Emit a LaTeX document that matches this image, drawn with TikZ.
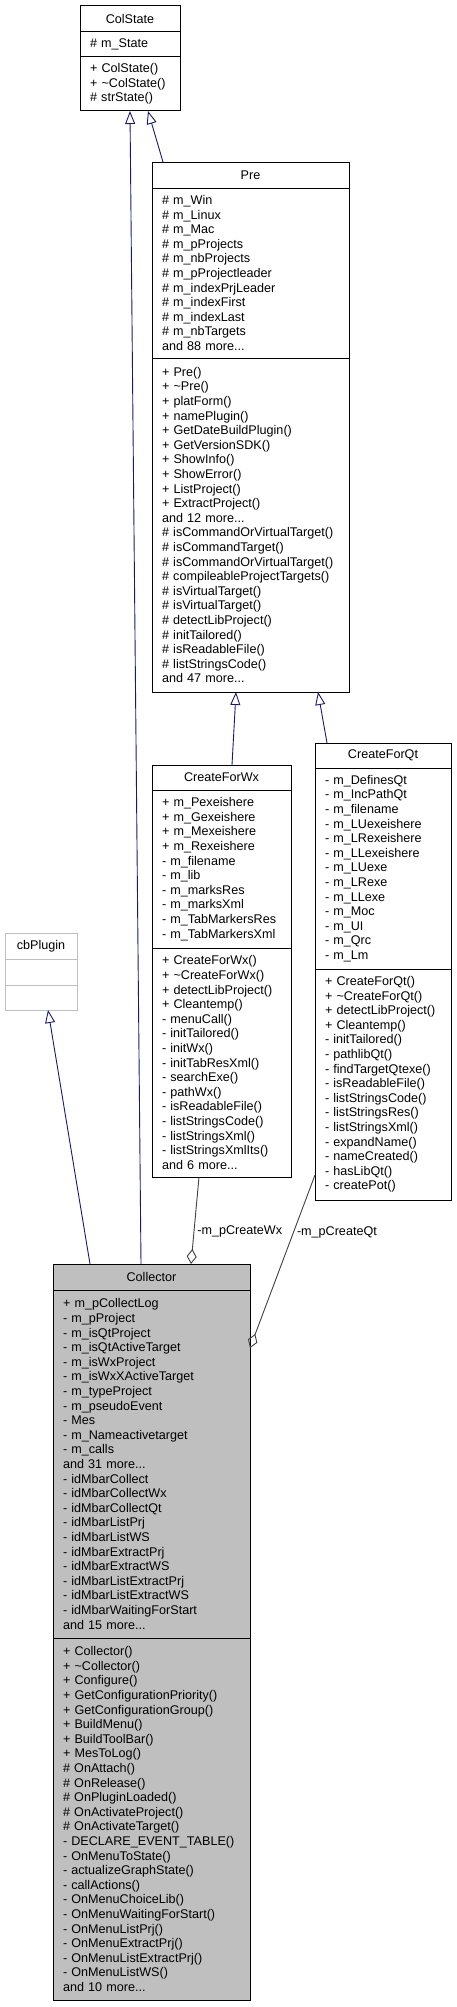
\documentclass[tikz,border=0pt]{standalone}
\usepackage{fontspec}
\setmainfont{Liberation Sans}
\usepackage{tikz}
\usetikzlibrary{calc,arrows.meta}
\usepackage{xcolor}
\definecolor{inheritblue}{HTML}{191970}
\definecolor{usegray}{HTML}{404040}
\definecolor{plugingray}{HTML}{BFBFBF}

\begin{document}
\begin{tikzpicture}[x=1pt, y=-1pt,
  every node/.style={font=\fontsize{12.6}{14.6}\selectfont},
  classtitle/.style={draw, line width=1pt, anchor=north west, outer sep=0pt, inner sep=0pt},
  classpart/.style={draw, line width=1pt, anchor=north west, outer sep=0pt,
    inner xsep=10pt, inner ysep=0pt, align=left},
  inherit/.style={draw=inheritblue, line width=0.9pt, -{Triangle[open, length=13pt, width=10pt]}},
  usage/.style={draw=usegray, line width=0.9pt, {Diamond[open, length=15pt, width=10pt]}-},
  edgelabel/.style={inner sep=3pt}]
  \useasboundingbox (0,0) rectangle (456,2007);

  % ColState
  \node[classtitle, minimum width=100pt, minimum height=26pt] (colstate) at (80,6) {ColState};
  \node[classpart, text width=80pt, minimum height=25pt] (colstateattr) at (colstate.south west) {\# m\_State};
  \node[classpart, text width=80pt, minimum height=54pt] (colstatemeth) at (colstateattr.south west)
    {+ ColState()\\+ \textasciitilde{}ColState()\\\# strState()};

  % Pre
  \node[classtitle, minimum width=197pt, minimum height=26pt] (pre) at (152,162) {Pre};
  \node[classpart, text width=177pt, minimum height=170pt] (preattr) at (pre.south west)
    {\# m\_Win\\\# m\_Linux\\\# m\_Mac\\\# m\_pProjects\\\# m\_nbProjects\\\# m\_pProjectleader\\
     \# m\_indexPrjLeader\\\# m\_indexFirst\\\# m\_indexLast\\\# m\_nbTargets\\and 88 more...};
  \node[classpart, text width=177pt, minimum height=334pt] (premeth) at (preattr.south west)
    {+ Pre()\\+ \textasciitilde{}Pre()\\+ platForm()\\+ namePlugin()\\+ GetDateBuildPlugin()\\
     + GetVersionSDK()\\+ ShowInfo()\\+ ShowError()\\+ ListProject()\\+ ExtractProject()\\
     and 12 more...\\\# isCommandOrVirtualTarget()\\\# isCommandTarget()\\
     \# isCommandOrVirtualTarget()\\\# compileableProjectTargets()\\\# isVirtualTarget()\\
     \# isVirtualTarget()\\\# detectLibProject()\\\# initTailored()\\\# isReadableFile()\\
     \# listStringsCode()\\and 47 more...};

  % CreateForWx
  \node[classtitle, minimum width=139pt, minimum height=25pt] (createforwx) at (152,765) {CreateForWx};
  \node[classpart, text width=119pt, minimum height=158pt] (createforwxattr) at (createforwx.south west)
    {+ m\_Pexeishere\\+ m\_Gexeishere\\+ m\_Mexeishere\\+ m\_Rexeishere\\- m\_filename\\
     - m\_lib\\- m\_marksRes\\- m\_marksXml\\- m\_TabMarkersRes\\- m\_TabMarkersXml};
  \node[classpart, text width=119pt, minimum height=229pt] (createforwxmeth) at (createforwxattr.south west)
    {+ CreateForWx()\\+ \textasciitilde{}CreateForWx()\\+ detectLibProject()\\+ Cleantemp()\\
     - menuCall()\\- initTailored()\\- initWx()\\- initTabResXml()\\- searchExe()\\- pathWx()\\
     - isReadableFile()\\- listStringsCode()\\- listStringsXml()\\- listStringsXmlIts()\\
     and 6 more...};

  % CreateForQt
  \node[classtitle, minimum width=136pt, minimum height=25pt] (createforqt) at (315,743) {CreateForQt};
  \node[classpart, text width=116pt, minimum height=201pt] (createforqtattr) at (createforqt.south west)
    {- m\_DefinesQt\\- m\_IncPathQt\\- m\_filename\\- m\_LUexeishere\\- m\_LRexeishere\\
     - m\_LLexeishere\\- m\_LUexe\\- m\_LRexe\\- m\_LLexe\\- m\_Moc\\- m\_UI\\- m\_Qrc\\- m\_Lm};
  \node[classpart, text width=116pt, minimum height=231pt] (createforqtmeth) at (createforqtattr.south west)
    {+ CreateForQt()\\+ \textasciitilde{}CreateForQt()\\+ detectLibProject()\\+ Cleantemp()\\
     - initTailored()\\- pathlibQt()\\- findTargetQtexe()\\- isReadableFile()\\
     - listStringsCode()\\- listStringsRes()\\- listStringsXml()\\- expandName()\\
     - nameCreated()\\- hasLibQt()\\- createPot()};

  % cbPlugin
  \node[classtitle, draw=plugingray, minimum width=72pt, minimum height=26pt] (cbplugin) at (5,933) {cbPlugin};
  \node[classpart, draw=plugingray, text width=52pt, minimum height=26pt] (cbpluginattr) at (cbplugin.south west) {};
  \node[classpart, draw=plugingray, text width=52pt, minimum height=25pt] (cbpluginmeth) at (cbpluginattr.south west) {};

  % Collector
  \node[classtitle, fill=plugingray, minimum width=197pt, minimum height=26pt] (collector) at (53,1264) {Collector};
  \node[classpart, fill=plugingray, text width=177pt, minimum height=348pt] (collectorattr) at (collector.south west)
    {+ m\_pCollectLog\\- m\_pProject\\- m\_isQtProject\\- m\_isQtActiveTarget\\- m\_isWxProject\\
     - m\_isWxXActiveTarget\\- m\_typeProject\\- m\_pseudoEvent\\- Mes\\- m\_Nameactivetarget\\
     - m\_calls\\and 31 more...\\- idMbarCollect\\- idMbarCollectWx\\- idMbarCollectQt\\
     - idMbarListPrj\\- idMbarListWS\\- idMbarExtractPrj\\- idMbarExtractWS\\
     - idMbarListExtractPrj\\- idMbarListExtractWS\\- idMbarWaitingForStart\\and 15 more...};
  \node[classpart, fill=plugingray, text width=177pt, minimum height=362pt] (collectormeth) at (collectorattr.south west)
    {+ Collector()\\+ \textasciitilde{}Collector()\\+ Configure()\\+ GetConfigurationPriority()\\
     + GetConfigurationGroup()\\+ BuildMenu()\\+ BuildToolBar()\\+ MesToLog()\\\# OnAttach()\\
     \# OnRelease()\\\# OnPluginLoaded()\\\# OnActivateProject()\\\# OnActivateTarget()\\
     - DECLARE\_EVENT\_TABLE()\\- OnMenuToState()\\- actualizeGraphState()\\- callActions()\\
     - OnMenuChoiceLib()\\- OnMenuWaitingForStart()\\- OnMenuListPrj()\\- OnMenuExtractPrj()\\
     - OnMenuListExtractPrj()\\- OnMenuListWS()\\and 10 more...};

  % Inheritance
  \draw[inherit] ($(collector.north west)+(88,0)$) -- (colstatemeth.south);
  \draw[inherit] ($(pre.north west)+(11,0)$) -- ($(colstatemeth.south)+(18,0)$);
  \draw[inherit] ($(createforwx.north)+(10.5,0)$) -- ($(premeth.south)+(-14.5,0)$);
  \draw[inherit] ($(createforqt.north west)+(12,0)$) -- ($(premeth.south)+(67.5,0)$);
  \draw[inherit] ($(collector.north west)+(37,0)$) -- ($(cbpluginmeth.south)+(7,0)$);

  % Usage
  \draw[usage] ($(collector.north west)+(138,0)$) --
    node[edgelabel, pos=0.37, right] (wxlabel) {-m\_pCreateWx} ($(createforwxmeth.south)+(-22.5,0)$);
  \draw[usage] ($(collectorattr.north east)+(0,58)$) --
    node[edgelabel, pos=0.67, right] (qtlabel) {-m\_pCreateQt} ($(createforqtmeth.south west)+(0,-25)$);

\end{tikzpicture}
\end{document}
